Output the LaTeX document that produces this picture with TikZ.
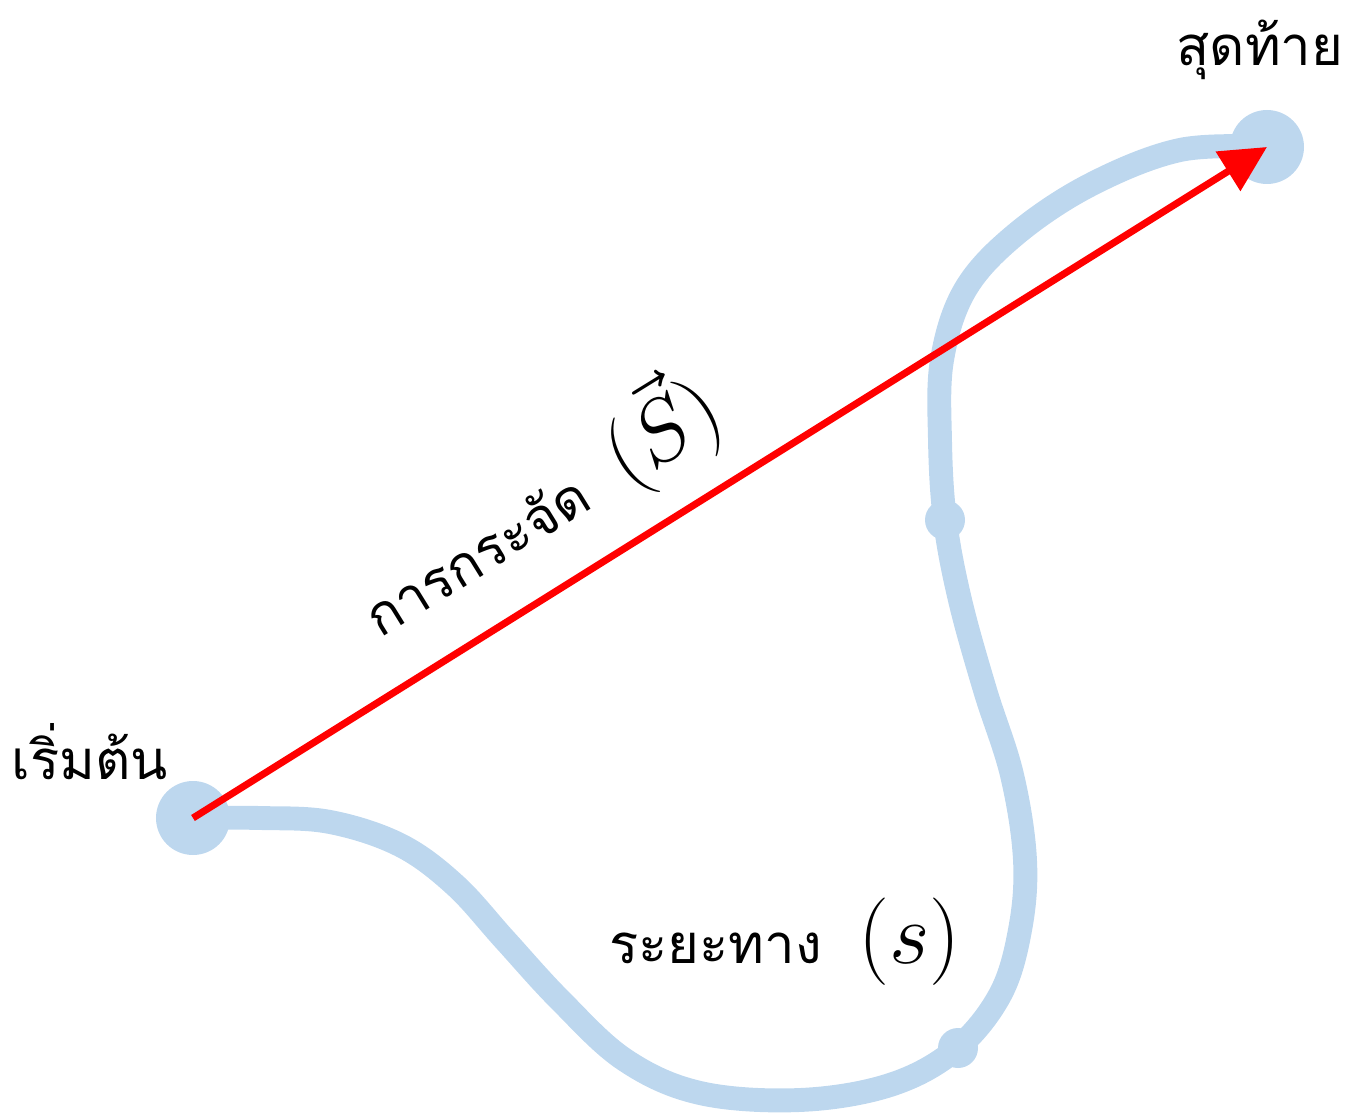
\documentclass[tikz,border=0pt]{standalone}
\usepackage{fontspec}
\newfontfamily\thaifont[Script=Thai]{Loma}
\usepackage{tikz}
\usetikzlibrary{arrows.meta, positioning, calc}
\definecolor{pathblue}{RGB}{189,215,238}
\definecolor{arrowred}{RGB}{255,0,0}
\newcommand{\symb}[1]{{\fontsize{24}{28}\selectfont$#1$}}
\tikzset{
  point/.style={circle, fill=pathblue, minimum size=0.74cm, inner sep=0pt},
  bump/.style={circle, fill=pathblue, minimum size=0.4cm, inner sep=0pt},
  route/.style={pathblue, line width=6.8pt, line cap=round, line join=round},
  label/.style={font=\thaifont\fontsize{15.5}{18}\selectfont, inner sep=0pt}
}

\begin{document}
\begin{tikzpicture}
  \useasboundingbox (0,0) rectangle (13.5,11.16);
  % end points
  \node[point] (start) at (1.93,2.98) {};
  \node[point] (end) at (12.67,9.69) {};
  % path travelled
  \draw[route] plot[smooth, tension=0.6] coordinates {(start.center) (2.60,2.98) (3.30,2.94) (4.00,2.71) (4.55,2.31) (5.05,1.76) (5.60,1.16) (6.25,0.56) (7.00,0.23) (8.00,0.16) (8.90,0.31) (9.55,0.66) (10.00,1.21) (10.20,1.86) (10.25,2.56) (10.12,3.41) (9.85,4.26) (9.60,5.16) (9.45,5.96) (9.40,6.76) (9.42,7.56) (9.65,8.26) (10.15,8.81) (10.90,9.31) (11.80,9.66) (end.center)};
  \node[bump] (b1) at (9.45,5.96) {};
  \node[bump] (b2) at (9.58,0.68) {};
  % displacement
  \draw[arrowred, line width=2pt, -{Triangle[length=0.46cm, width=0.45cm]}] (start.center) -- (end.center);
  % labels
  \node[label] (startlbl) at (0.90,3.64) {เริ่มต้น};
  \node[label] (endlbl) at (12.60,10.66) {สุดท้าย};
  \node[label, rotate=31.7] (displbl) at (5.38,6.11) {การกระจัด~~\symb{(\vec{S})}};
  \node[label] (distlbl) at (7.85,1.74) {ระยะทาง~~\symb{(s)}};
\end{tikzpicture}
\end{document}
